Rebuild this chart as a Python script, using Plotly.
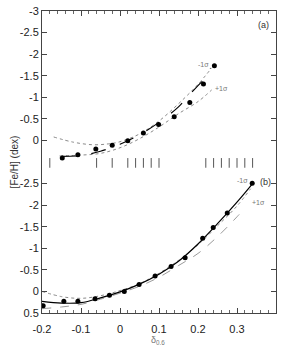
import plotly.graph_objects as go

# ---- Panel (a) data ----
a_pts_x = [-0.148, -0.108, -0.062, -0.020, 0.020, 0.060, 0.099, 0.139, 0.179, 0.214, 0.242]
a_pts_y = [0.41, 0.33, 0.20, 0.11, 0.01, -0.17, -0.37, -0.55, -0.88, -1.31, -1.73]

a_fit_x = [-0.15, -0.10, -0.05, 0.0, 0.05, 0.10, 0.15, 0.175, 0.20, 0.218, 0.232]
a_fit_y = [0.37, 0.35, 0.25, 0.09, -0.13, -0.42, -0.78, -1.03, -1.27, -1.45, -1.68]

a_m1_x = [-0.17, -0.12, -0.07, -0.03, 0.0, 0.05, 0.10, 0.15, 0.20, 0.235]
a_m1_y = [-0.08, 0.04, 0.10, 0.08, 0.03, -0.15, -0.45, -0.85, -1.30, -1.68]

a_p1_x = [-0.155, -0.10, -0.05, 0.0, 0.05, 0.10, 0.15, 0.20, 0.235]
a_p1_y = [0.36, 0.34, 0.30, 0.17, -0.04, -0.31, -0.62, -0.90, -1.17]

# ---- Panel (b) data ----
b_pts_x = [-0.197, -0.144, -0.108, -0.064, -0.027, 0.011, 0.049, 0.090, 0.131, 0.167, 0.212, 0.239, 0.275, 0.339]
b_pts_y = [0.33, 0.23, 0.23, 0.17, 0.09, 0.0, -0.16, -0.36, -0.58, -0.78, -1.23, -1.48, -1.82, -2.51]

b_fit_x = [-0.2, -0.15, -0.10, -0.05, 0.0, 0.05, 0.10, 0.15, 0.20, 0.25, 0.30, 0.34]
b_fit_y = [0.23, 0.27, 0.26, 0.15, 0.01, -0.17, -0.40, -0.70, -1.10, -1.57, -2.07, -2.50]

b_m1_x = [-0.2, -0.15, -0.10, -0.05, 0.0, 0.05, 0.10, 0.15, 0.20, 0.25, 0.30, 0.335]
b_m1_y = [0.0, 0.12, 0.16, 0.10, -0.02, -0.18, -0.42, -0.72, -1.08, -1.52, -1.98, -2.38]

b_p1_x = [-0.2, -0.15, -0.10, -0.05, 0.0, 0.05, 0.10, 0.15, 0.20, 0.25, 0.30, 0.32]
b_p1_y = [0.40, 0.36, 0.30, 0.18, 0.04, -0.12, -0.33, -0.60, -0.88, -1.27, -1.73, -1.93]

# ---- Axis ticks ----
x_ticks = [-0.2, -0.1, 0.0, 0.1, 0.2, 0.3, 0.4]
x_labels = ["-0.2", "-0.1", "0", "0.1", "0.2", "0.3", "0.4"]
ya_ticks = [-3, -2.5, -2, -1.5, -1, -0.5, 0]
ya_labels = ["-3", "-2.5", "-2", "-1.5", "-1", "-0.5", "0"]
yb_ticks = [-2.5, -2, -1.5, -1, -0.5, 0, 0.5]
yb_labels = ["-2.5", "-2", "-1.5", "-1", "-0.5", "0", "0.5"]
rug_ticks = [-0.18, -0.06, -0.02, 0.02, 0.04, 0.06, 0.08, 0.1, 0.22, 0.24, 0.26, 0.28, 0.3, 0.32, 0.34]

FONT = "Arial, Liberation Sans, sans-serif"
GREY = "#8a8a8a"
AX = "#444"

fig = go.Figure()

def line(x, y, xa, ya, color, dash, width=1.0):
    fig.add_trace(go.Scatter(x=x, y=y, xaxis=xa, yaxis=ya, mode="lines",
                             line=dict(color=color, dash=dash, width=width, shape="spline"),
                             showlegend=False, hoverinfo="skip"))

def pts(x, y, xa, ya):
    fig.add_trace(go.Scatter(x=x, y=y, xaxis=xa, yaxis=ya, mode="markers",
                             marker=dict(color="black", size=5),
                             showlegend=False))

# panel (a)
line(a_m1_x, a_m1_y, "x2", "y2", GREY, "dot", 1.0)
line(a_p1_x, a_p1_y, "x2", "y2", GREY, "dot", 1.0)
line(a_fit_x, a_fit_y, "x2", "y2", "black", "longdash", 1.1)
pts(a_pts_x, a_pts_y, "x2", "y2")

# panel (b)
line(b_m1_x, b_m1_y, "x", "y", GREY, "dot", 1.0)
line(b_p1_x, b_p1_y, "x", "y", "#9a9a9a", "dash", 1.0)
line(b_fit_x, b_fit_y, "x", "y", "black", "solid", 1.2)
pts(b_pts_x, b_pts_y, "x", "y")

tickfont = dict(family=FONT, size=11, color="#222")
common_x = dict(range=[-0.2, 0.4], showgrid=False, zeroline=False)

fig.update_layout(
    width=283, height=348,
    margin=dict(l=42, r=7, t=5, b=35),
    paper_bgcolor="white", plot_bgcolor="white",
    font=dict(family=FONT, size=11, color="#222"),
    xaxis=dict(**common_x, anchor="y", domain=[0, 1], side="bottom",
               showline=True, linecolor=AX, linewidth=1,
               ticks="inside", ticklen=5, tickcolor=AX, ticklabelstandoff=6,
               tickvals=x_ticks, ticktext=x_labels, tickfont=tickfont,
               minor=dict(ticks="inside", ticklen=3, dtick=0.02, tick0=0, tickcolor="#666")),
    xaxis2=dict(**common_x, anchor="y2", matches="x", side="top",
                showline=True, linecolor=AX, linewidth=1,
                ticks="inside", ticklen=5, tickcolor=AX,
                tickvals=x_ticks, showticklabels=False,
                minor=dict(ticks="inside", ticklen=3, dtick=0.02, tick0=0, tickcolor="#666")),
    yaxis=dict(domain=[0, 0.5], range=[0.5, -3], anchor="x",
               showgrid=False, zeroline=False,
               showline=True, linecolor=AX, linewidth=1, mirror="ticks",
               ticks="inside", ticklen=5, tickcolor=AX, ticklabeloverflow="allow",
               tickvals=yb_ticks, ticktext=yb_labels, tickfont=tickfont),
    yaxis2=dict(domain=[0.5, 1], range=[0.5, -3], anchor="x2",
                showgrid=False, zeroline=False,
                showline=True, linecolor=AX, linewidth=1, mirror="ticks",
                ticks="inside", ticklen=5, tickcolor=AX, ticklabeloverflow="allow",
                tickvals=ya_ticks, ticktext=ya_labels, tickfont=tickfont),
)

# tick marks straddling the boundary between the two panels
for tx in rug_ticks:
    fig.add_shape(type="line", xref="x", yref="paper", x0=tx, x1=tx,
                  y0=0.481, y1=0.513, line=dict(color="#555", width=1))

small = dict(family=FONT, size=7, color="#777")
fig.add_annotation(x=0.369, y=-2.68, xref="x2", yref="y2", text="(a)", showarrow=False,
                   font=dict(family=FONT, size=9, color="#333"))
fig.add_annotation(x=0.372, y=-2.54, xref="x", yref="y", text="(b)", showarrow=False,
                   font=dict(family=FONT, size=9, color="#333"))
fig.add_annotation(x=0.215, y=-1.75, xref="x2", yref="y2", text="-1σ", showarrow=False, font=small)
fig.add_annotation(x=0.259, y=-1.20, xref="x2", yref="y2", text="+1σ", showarrow=False, font=small)
fig.add_annotation(x=0.313, y=-2.56, xref="x", yref="y", text="-1σ", showarrow=False, font=small)
fig.add_annotation(x=0.355, y=-2.07, xref="x", yref="y", text="+1σ", showarrow=False, font=small)

fig.add_annotation(x=-0.15, y=0.5, xref="paper", yref="paper", text="[Fe/H] (dex)",
                   textangle=-90, showarrow=False, font=dict(family=FONT, size=10, color="#333"))
fig.add_annotation(x=0.496, y=-0.066, xref="paper", yref="paper", yanchor="top",
                   text="δ<sub>0.6</sub>",
                   showarrow=False, font=dict(family=FONT, size=9, color="#777"))

# remove the browser's default 8px page margin so the figure sits at the window origin
fig.write_html("out.html", config={"displayModeBar": False},
               post_script="document.body.style.margin='0';")
